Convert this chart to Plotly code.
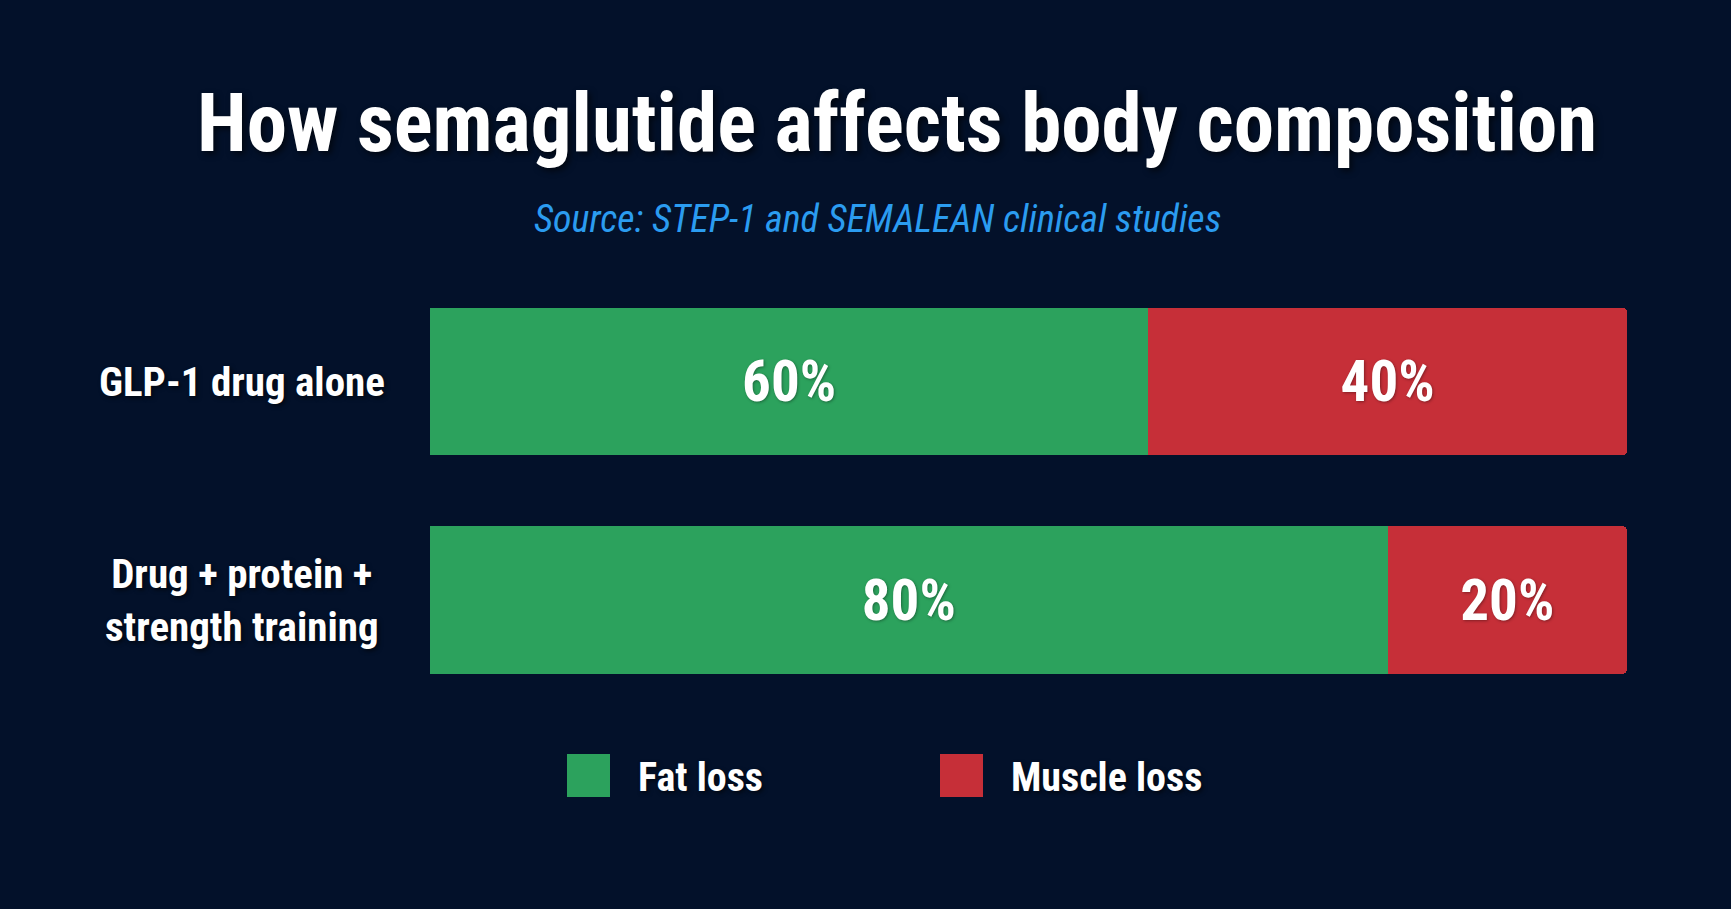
import plotly.graph_objects as go

categories = ["GLP-1 drug alone", "Drug + protein +<br>strength training"]
fat_loss = [60, 80]
muscle_loss = [40, 20]
series_names = ["Fat loss", "Muscle loss"]
colors = ["#2ca25d", "#c62f38"]

W, H = 1731, 909
BG = "#03112a"
FONT = "Roboto Condensed"

def px_x(x):
    return x / W

def px_y(y):
    return 1 - y / H

fig = go.Figure()
for name, vals, col in zip(series_names, [fat_loss, muscle_loss], colors):
    fig.add_trace(go.Bar(
        y=categories, x=vals, name=name, orientation="h",
        marker=dict(color=col, line=dict(width=0)),
        texttemplate="%{x}%", textposition="inside", insidetextanchor="middle",
        textfont=dict(family=FONT, size=57, weight="bold", color="white",
                      shadow="1px 1px 3px rgba(0,0,0,0.35)"),
        showlegend=False, hoverinfo="skip",
    ))

# category labels, centred to the left of the bars
for cat in categories:
    fig.add_annotation(x=px_x(242), xref="paper", y=cat, yref="y", text=cat,
                       showarrow=False, xanchor="center", yanchor="middle", align="center",
                       font=dict(family=FONT, size=41, weight="bold", color="white",
                                 shadow="2px 2px 4px rgba(0,0,0,0.6)"))

# title & subtitle
fig.add_annotation(x=px_x(897), y=px_y(124), xref="paper", yref="paper", showarrow=False,
                   xanchor="center", yanchor="middle",
                   text="How semaglutide affects body composition",
                   font=dict(family=FONT, size=81, weight="bold", color="white",
                             shadow="3px 3px 6px rgba(0,0,0,0.6)"))
fig.add_annotation(x=px_x(877), y=px_y(219), xref="paper", yref="paper", showarrow=False,
                   xanchor="center", yanchor="middle",
                   text="Source: STEP-1 and SEMALEAN clinical studies",
                   font=dict(family=FONT, size=38, style="italic", weight=400, color="#2b9cf0"))

# legend (drawn manually for large swatches)
legend_pos = [(567, 636), (940, 1009)]
for (sx, tx), name, col in zip(legend_pos, series_names, colors):
    fig.add_shape(type="rect", xref="paper", yref="paper",
                  x0=px_x(sx), x1=px_x(sx + 43), y0=px_y(797), y1=px_y(754),
                  fillcolor=col, line=dict(width=0))
    fig.add_annotation(x=px_x(tx), y=px_y(777), xref="paper", yref="paper", showarrow=False,
                       xanchor="left", yanchor="middle", text=name,
                       font=dict(family=FONT, size=40, weight="bold", color="white",
                                 shadow="2px 2px 4px rgba(0,0,0,0.6)"))

fig.update_layout(
    width=W, height=H, barmode="stack", bargap=0.323, barcornerradius=5,
    paper_bgcolor=BG, plot_bgcolor=BG,
    margin=dict(l=0, r=0, t=0, b=0),
    xaxis=dict(domain=[px_x(430), px_x(1627)], range=[0, 100], visible=False, fixedrange=True),
    yaxis=dict(domain=[px_y(709.25), px_y(272.25)], range=[1.5, -0.5], visible=False, fixedrange=True),
    showlegend=False,
)

fig.write_html("out.html")
